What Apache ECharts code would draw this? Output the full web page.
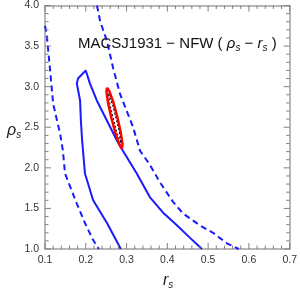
<!DOCTYPE html>
<html><head><meta charset="utf-8">
<script src="https://cdn.jsdelivr.net/npm/echarts@6/dist/echarts.min.js"></script>
<style>html,body{margin:0;padding:0;background:#fff}#c{width:300px;height:290px}</style>
</head><body><div id="c"></div>
<script>
const xTicks = [0.1,0.2,0.3,0.4,0.5,0.6,0.7];
const yTicks = [1.0,1.5,2.0,2.5,3.0,3.5,4.0];
const xMinor = [0.12,0.14,0.16,0.18,0.22,0.24,0.26,0.28,0.32,0.34,0.36,0.38,0.42,0.44,0.46,0.48,0.52,0.54,0.56,0.58,0.62,0.64,0.66,0.68];
const yMinor = [1.1,1.2,1.3,1.4,1.6,1.7,1.8,1.9,2.1,2.2,2.3,2.4,2.6,2.7,2.8,2.9,3.1,3.2,3.3,3.4,3.6,3.7,3.8,3.9];
// outer dashed contour, left branch
const outerLeft = [[0.100,3.75],[0.104,3.65],[0.112,3.23],[0.120,2.79],[0.137,2.42],[0.144,2.21],[0.149,1.93],[0.178,1.56],[0.198,1.32],[0.218,1.11],[0.232,1.00]];
// outer dashed contour, right branch
const outerRight = [[0.2275,4.00],[0.235,3.81],[0.252,3.56],[0.267,3.23],[0.284,2.91],[0.316,2.50],[0.333,2.21],[0.357,2.04],[0.382,1.82],[0.414,1.58],[0.438,1.44],[0.480,1.29],[0.512,1.20],[0.546,1.07],[0.575,1.00]];
// inner solid contour
const innerSolid = [[0.286,1.00],[0.252,1.32],[0.218,1.60],[0.198,1.93],[0.191,2.34],[0.188,2.58],[0.186,2.83],[0.178,3.04],[0.181,3.10],[0.200,3.20],[0.210,3.04],[0.227,2.83],[0.252,2.58],[0.276,2.34],[0.291,2.21],[0.325,1.93],[0.357,1.64],[0.389,1.45],[0.424,1.29],[0.455,1.14],[0.485,1.00]];
// red contour around best fit
const redEllipse = [[0.2520,2.988],[0.2580,2.942],[0.2674,2.809],[0.2775,2.622],[0.2858,2.434],[0.2900,2.294],[0.2887,2.239],[0.2826,2.285],[0.2733,2.418],[0.2632,2.605],[0.2549,2.793],[0.2507,2.933],[0.2520,2.988]];
// black dashed contour inside the red one
const blackEllipse = [[0.2556,2.914],[0.2664,2.764],[0.2816,2.458],[0.2863,2.301],[0.2755,2.450],[0.2603,2.757],[0.2556,2.914]];

const X0 = 0.1, X1 = 0.7, Y0 = 1.0, Y1 = 4.0;
const axisCol = '#a0a0a0';
const tickCol = '#808080';
const font = 'Liberation Sans, Arial, sans-serif';
function xAx(pos, lbl){
  return {type:'value', position:pos, min:X0, max:X1, interval:0.1,
    axisLine:{show:true, onZero:false, lineStyle:{color:axisCol, width:1.5}},
    axisTick:{show:false}, minorTick:{show:false}, splitLine:{show:false},
    axisLabel:{show:lbl, color:'#333', fontSize:10.5, fontFamily:font, margin:6, formatter:v=>v.toFixed(1)}};
}
function yAx(pos, lbl){
  return {type:'value', position:pos, min:Y0, max:Y1, interval:0.5,
    axisLine:{show:true, onZero:false, lineStyle:{color:axisCol, width:1.5}},
    axisTick:{show:false}, minorTick:{show:false}, splitLine:{show:false},
    axisLabel:{show:lbl, color:'#333', fontSize:10.5, fontFamily:font, margin:6, formatter:v=>v.toFixed(1)}};
}
// tick-mark lengths expressed in axis units (major ≈ 6 px, minor ≈ 3.5 px)
const xTickLenMajor = 0.074, xTickLenMinor = 0.043;   // along y, for ticks on bottom/top
const yTickLenMajor = 0.0147, yTickLenMinor = 0.0086; // along x, for ticks on left/right
const tickPts = [];
function addX(v, L){ tickPts.push([v,Y0],[v,Y0+L],[v,'-'],[v,Y1],[v,Y1-L],[v,'-']); }
function addY(v, L){ tickPts.push([X0,v],[X0+L,v],['-',v],[X1,v],[X1-L,v],['-',v]); }
xTicks.forEach(v=>addX(v, xTickLenMajor));
xMinor.forEach(v=>addX(v, xTickLenMinor));
yTicks.forEach(v=>addY(v, yTickLenMajor));
yMinor.forEach(v=>addY(v, yTickLenMinor));

const chart = echarts.init(document.getElementById('c'));
function ln(data, color, width, type, z){
  return {type:'line', data:data, xAxisIndex:0, yAxisIndex:0, showSymbol:false, symbol:'none', smooth:false, clip:true,
    lineStyle:{color:color, width:width, type:type}, z:z||2, silent:true};
}
const richSub = {
  i:{fontStyle:'italic', fontSize:15, fontFamily:font, color:'#111'},
  s:{fontStyle:'italic', fontSize:10, fontFamily:font, color:'#111', padding:[8,0,0,0]}
};
const richAx = {
  i:{fontStyle:'italic', fontSize:16, fontFamily:font, color:'#222'},
  s:{fontStyle:'italic', fontSize:10, fontFamily:font, color:'#222', padding:[9,0,0,0]}
};
chart.setOption({
  animation:false,
  title:[
    {text:'MACSJ1931 − NFW ( {i|ρ}{s|s} − {i|r}{s|s} )', left:78, top:35, padding:0,
     textStyle:{fontSize:15, fontWeight:'normal', fontFamily:font, color:'#111', rich:richSub}},
    {text:'{i|ρ}{s|s}', left:7, top:121, padding:0, textStyle:{fontSize:16, fontWeight:'normal', fontFamily:font, rich:richAx}},
    {text:'{i|r}{s|s}', left:163, top:271, padding:0, textStyle:{fontSize:16, fontWeight:'normal', fontFamily:font, rich:richAx}}
  ],
  grid:{left:45, right:10, top:4.5, bottom:41},
  xAxis:[xAx('bottom', true), xAx('top', false)],
  yAxis:[yAx('left', true), yAx('right', false)],
  series:[
    {type:'line', data:tickPts, xAxisIndex:0, yAxisIndex:0, showSymbol:false, symbol:'none', connectNulls:false,
     clip:false, silent:true, z:5, lineStyle:{color:tickCol, width:1}},
    ln(outerLeft, '#1a1aff', 2, [6,4]),
    ln(outerRight, '#1a1aff', 2, [6,4]),
    ln(innerSolid, '#1a1aff', 2, 'solid'),
    ln(redEllipse, '#ff0000', 2.5, 'solid', 3),
    ln(blackEllipse, '#000000', 1, [2,2], 4)
  ]
});
</script></body></html>
